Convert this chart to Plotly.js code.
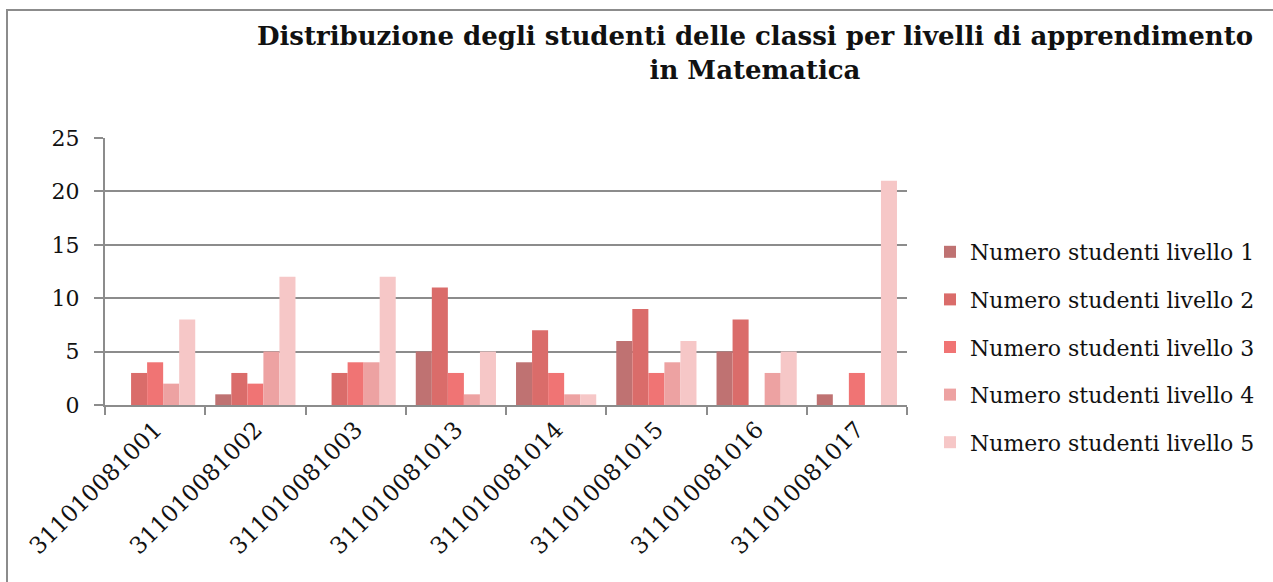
<!DOCTYPE html>
<html>
<head>
<meta charset="utf-8">
<script src="https://cdn.plot.ly/plotly-3.0.1.min.js"></script>
<style>
html,body{margin:0;padding:0;background:#fff;}
#chart{width:1273px;height:582px;}
</style>
</head>
<body>
<div id="chart"></div>
<script>
const categories = ["311010081001","311010081002","311010081003","311010081013","311010081014","311010081015","311010081016","311010081017"];
const seriesNames = ["Numero studenti livello 1","Numero studenti livello 2","Numero studenti livello 3","Numero studenti livello 4","Numero studenti livello 5"];
const livello1 = [0, 1, 0, 5, 4, 6, 5, 1];
const livello2 = [3, 3, 3, 11, 7, 9, 8, 0];
const livello3 = [4, 2, 4, 3, 3, 3, 0, 3];
const livello4 = [2, 5, 4, 1, 1, 4, 3, 0];
const livello5 = [8, 12, 12, 5, 1, 6, 5, 21];
const yTicks = [0, 5, 10, 15, 20, 25];
const colors = ["#bf7272", "#da6c6a", "#f07474", "#eda2a2", "#f6c7c7"];

const values = [livello1, livello2, livello3, livello4, livello5];
const FONT = "DejaVu Serif, Liberation Serif, serif";

const traces = values.map((v, i) => ({
  type: "bar",
  name: seriesNames[i],
  x: categories,
  y: v,
  legendgroup: "g" + i,
  marker: {color: colors[i], line: {width: 0}},
  hoverinfo: "x+y+name"
}));

const L = 105, R = 907, T = 138, B = 405, W = 1273, H = 582;
const px2x = p => (p - L) / (R - L);
const py2y = p => (B - p) / (B - T);

const layout = {
  width: W, height: H,
  margin: {l: L, r: W - R, t: T, b: H - B, pad: 0},
  paper_bgcolor: "#ffffff",
  plot_bgcolor: "#ffffff",
  font: {family: FONT, color: "#111111", size: 22},
  barmode: "group",
  bargap: 0.2,
  bargroupgap: 0,
  title: {
    text: "<b>Distribuzione degli studenti delle classi per livelli di apprendimento<br>in Matematica</b>",
    font: {family: FONT, size: 26, color: "#111111"},
    x: 755 / W, xanchor: "center",
    y: 1 - 45 / H, yanchor: "top"
  },
  xaxis: {
    type: "category",
    showline: true, linecolor: "#8c8c8c", linewidth: 2,
    ticks: "outside", tickson: "boundaries", ticklen: 8, tickcolor: "#8c8c8c", tickwidth: 2,
    tickangle: -45,
    tickfont: {family: FONT, size: 23, color: "#111111"},
    showgrid: false, zeroline: false
  },
  yaxis: {
    range: [0, 25],
    tickvals: yTicks,
    ticktext: yTicks.map(String),
    showline: true, linecolor: "#8c8c8c", linewidth: 2,
    ticks: "outside", ticklen: 9, tickcolor: "#8c8c8c", tickwidth: 2,
    ticklabelstandoff: 10,
    showgrid: true, gridcolor: "#8c8c8c", gridwidth: 2,
    zeroline: false,
    tickfont: {family: FONT, size: 22, color: "#111111"}
  },
  legend: {
    x: px2x(930), xanchor: "left",
    y: py2y(347), yanchor: "middle",
    font: {family: FONT, size: 22, color: "#111111"},
    tracegroupgap: 16,
    bgcolor: "rgba(0,0,0,0)"
  },
  shapes: [{
    type: "rect", xref: "paper", yref: "paper",
    x0: px2x(7), x1: px2x(1300), y0: py2y(620), y1: py2y(10),
    line: {color: "#8c8c8c", width: 2}, fillcolor: "rgba(0,0,0,0)", layer: "below"
  }],
  showlegend: true
};

Plotly.newPlot("chart", traces, layout, {displayModeBar: false, staticPlot: true});
</script>
</body>
</html>
